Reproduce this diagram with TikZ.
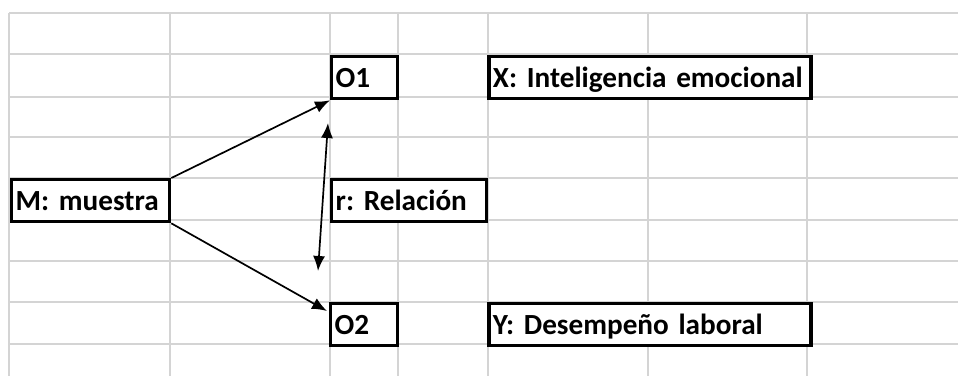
\documentclass[tikz,border=0pt]{standalone}
\usepackage{fontspec}
\setmainfont{Carlito}
\frenchspacing
\usetikzlibrary{positioning, arrows.meta}
\tikzset{gridline/.style = {draw=black!17, line width=2pt}}
\tikzset{cell/.style = {draw, line width=3.3pt, fill=white, anchor=north west, inner xsep=4pt, inner ysep=0pt,
    minimum height=42pt, text height=22pt, text depth=2pt, align=left, text width=#1,
    font=\fontsize{29.2}{35}\selectfont\bfseries}}
\tikzset{link/.style = {->, line width=1.7pt}}

\begin{document}
\begin{tikzpicture}[x=1pt, y=-1pt, >={Latex[length=15pt, width=12pt]}]
  \useasboundingbox (0,0) rectangle (958,376);
  % sheet grid
  \foreach \x in {9,170,330,398,488,648,807}
    \draw[gridline] (\x,13) -- (\x,376);
  \foreach \y in {13,54,97,137,178,220,261,302,344}
    \draw[gridline] (9,\y) -- (958,\y);

  \node [cell=150pt] (M) at (10,178) {\mbox{M: muestra}};
  \node [cell=58pt] (O1) at (330,55) {\mbox{O1}};
  \node [cell=147pt] (r) at (330,178) {\mbox{r: Relación}};
  \node [cell=59pt] (O2) at (329,302) {\mbox{O2}};
  \node [cell=314pt, anchor=west, right=88pt of O1] (X) {\mbox{X: Inteligencia emocional}};
  \node [cell=314pt, anchor=west, right=88pt of O2] (Y) {\mbox{Y: Desempeño laboral}};

  \coordinate (rtop) at (328,123);
  \coordinate (rbot) at (318,271);

  \draw[link] (M.north east) -- (O1.south west);
  \draw[link] (M.south east) -- ([xshift=-2pt, yshift=-9pt]O2.north west);
  \draw[link, <->] (rbot) -- (rtop);
\end{tikzpicture}
\end{document}
